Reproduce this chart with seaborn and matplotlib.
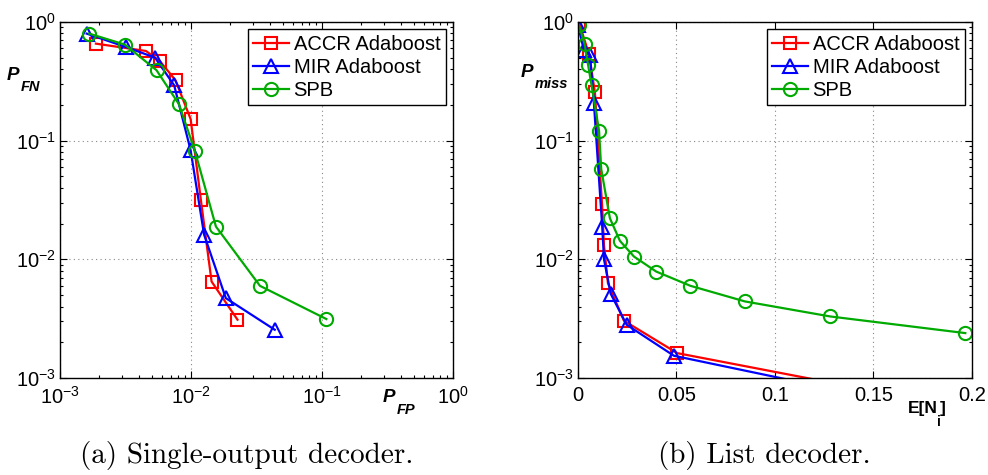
import numpy as np
import pandas as pd
import matplotlib
matplotlib.use("Agg")
import matplotlib.pyplot as plt
from matplotlib.ticker import LogLocator, NullFormatter, FixedLocator, FixedFormatter
import seaborn as sns

# ---- data ----
# (a) single-output decoder : P_FP vs P_FN
accr_fp = [1.88e-3, 4.53e-3, 5.8e-3, 7.62e-3, 9.94e-3, 0.0119, 0.01436, 0.02265]
accr_fn = [0.657, 0.570, 0.467, 0.323, 0.152, 0.0316, 0.0065, 0.0031]
mir_fp = [1.6e-3, 3.18e-3, 5.31e-3, 7.44e-3, 9.93e-3, 0.0126, 0.01845, 0.0436]
mir_fn = [0.798, 0.616, 0.501, 0.293, 0.0833, 0.0161, 0.00471, 0.00255]
spb_fp = [1.67e-3, 3.13e-3, 5.46e-3, 8.09e-3, 0.0107, 0.0155, 0.0336, 0.108]
spb_fn = [0.798, 0.645, 0.392, 0.203, 0.0822, 0.0189, 0.00598, 0.00314]

# (b) list decoder : E[N_i] vs P_miss
accr_en = [0.0005, 0.0056, 0.0086, 0.0122, 0.0132, 0.0152, 0.0233, 0.0504, 0.15]
accr_miss = [0.99, 0.535, 0.255, 0.0293, 0.0132, 0.0063, 0.00304, 0.00162, 7.8e-4]
mir_en = [0.0, 0.003, 0.0061, 0.0081, 0.0123, 0.0132, 0.0166, 0.0247, 0.0487, 0.15]
mir_miss = [0.94, 0.578, 0.524, 0.206, 0.0189, 0.0100, 0.00513, 0.00281, 0.00154, 6.85e-4]
spb_en = [0.0005, 0.0034, 0.0051, 0.0069, 0.0107, 0.0118, 0.0162, 0.0213, 0.0284,
          0.0397, 0.0571, 0.0847, 0.1281, 0.1966]
spb_miss = [0.937, 0.649, 0.438, 0.293, 0.121, 0.0576, 0.0222, 0.0143, 0.01056,
            0.00789, 0.00598, 0.00442, 0.0033, 0.00239]

labels = ["ACCR Adaboost", "MIR Adaboost", "SPB"]
colors = ["#ff0000", "#0000ff", "#00aa00"]
markers = ["s", "^", "o"]
msizes = [8, 10, 9.5]

en_ticks = [0, 0.05, 0.1, 0.15, 0.2]
en_ticklabels = ["0", "0.05", "0.1", "0.15", "0.2"]

plt.rcParams["font.family"] = ["Liberation Sans", "DejaVu Sans"]
plt.rcParams["mathtext.fontset"] = "custom"
plt.rcParams["mathtext.rm"] = "Liberation Sans"
plt.rcParams["xtick.direction"] = "in"
plt.rcParams["ytick.direction"] = "in"

W, H = 988, 475
fig = plt.figure(figsize=(W / 100, H / 100), dpi=100)
ax1 = fig.add_axes([0.0607, 0.2042, 0.3978, 0.7495])
ax2 = fig.add_axes([0.585, 0.2042, 0.3988, 0.7495])


def draw(ax, xs, ys):
    for x, y, lab, c, m, ms in zip(xs, ys, labels, colors, markers, msizes):
        df = pd.DataFrame({"x": x, "y": y})
        sns.lineplot(data=df, x="x", y="y", ax=ax, sort=False, estimator=None,
                     color=c, marker=m, markersize=ms, markerfacecolor="none",
                     markeredgecolor=c, markeredgewidth=1.5, linewidth=1.6,
                     label=lab)


draw(ax1, [accr_fp, mir_fp, spb_fp], [accr_fn, mir_fn, spb_fn])
draw(ax2, [accr_en, mir_en, spb_en], [accr_miss, mir_miss, spb_miss])

for ax in (ax1, ax2):
    ax.set_yscale("log")
    ax.set_ylim(1e-3, 1)
    ax.set_xlabel("")
    ax.set_ylabel("")
    ax.tick_params(which="both", top=True, right=True, labelsize=14.5, width=0.8)
    ax.tick_params(which="major", length=5)
    ax.tick_params(axis="x", which="major", pad=6)
    ax.tick_params(axis="y", which="major", pad=3)
    ax.tick_params(which="minor", length=2.5)
    ax.yaxis.set_minor_locator(LogLocator(base=10, subs=np.arange(2, 10)))
    ax.yaxis.set_minor_formatter(NullFormatter())
    ax.grid(True, which="major", linestyle=(0, (1, 3)), color="#888888", linewidth=0.8)
    for s in ax.spines.values():
        s.set_linewidth(1.0)
        s.set_color("black")
    leg = ax.legend(loc="upper right", fontsize=14.5, frameon=True, fancybox=False,
                    edgecolor="black", framealpha=1, handlelength=1.75,
                    handletextpad=0.25, borderpad=0.28, labelspacing=0.2,
                    borderaxespad=0.35)
    leg.get_frame().set_linewidth(1.0)

ax1.set_xscale("log")
ax1.set_xlim(1e-3, 1)
ax1.xaxis.set_minor_locator(LogLocator(base=10, subs=np.arange(2, 10)))
ax1.xaxis.set_minor_formatter(NullFormatter())

ax2.set_xlim(0, 0.2)
ax2.xaxis.set_major_locator(FixedLocator(en_ticks))
ax2.xaxis.set_major_formatter(FixedFormatter(en_ticklabels))

# axis labels, Matlab-style: big letter followed by a dropped subscript
fig.canvas.draw()
renderer = fig.canvas.get_renderer()


def label_run(x_px, base_px, parts):
    # parts: list of (text, dy_px, size, style, gap_px)
    x = x_px
    for txt, dy, size, style, gap in parts:
        t = fig.text((x + gap) / W, 1 - (base_px + dy) / H, txt, fontsize=size,
                     fontweight="bold", fontstyle=style, ha="left", va="baseline")
        x = t.get_window_extent(renderer).x1


label_run(7, 80, [("P", 0, 13.5, "italic", 0), ("FN", 11, 10.5, "italic", 1)])
label_run(383, 402, [("P", 0, 13.5, "italic", 0), ("FP", 12, 10.5, "italic", 1)])
label_run(521, 77, [("P", 0, 13.5, "italic", 0), ("miss", 11, 10.5, "italic", 1)])
label_run(908, 413, [("E[N", 0, 12.5, "normal", 0), ("i", 13, 10, "normal", -1),
                     ("]", 0, 12.5, "normal", -1)])

fig.text(0.250, 0.042, "(a) Single-output decoder.", fontsize=21,
         family="cmr10", ha="center", va="center")
fig.text(0.774, 0.042, "(b) List decoder.", fontsize=21,
         family="cmr10", ha="center", va="center")

fig.savefig("out.png", dpi=100)
